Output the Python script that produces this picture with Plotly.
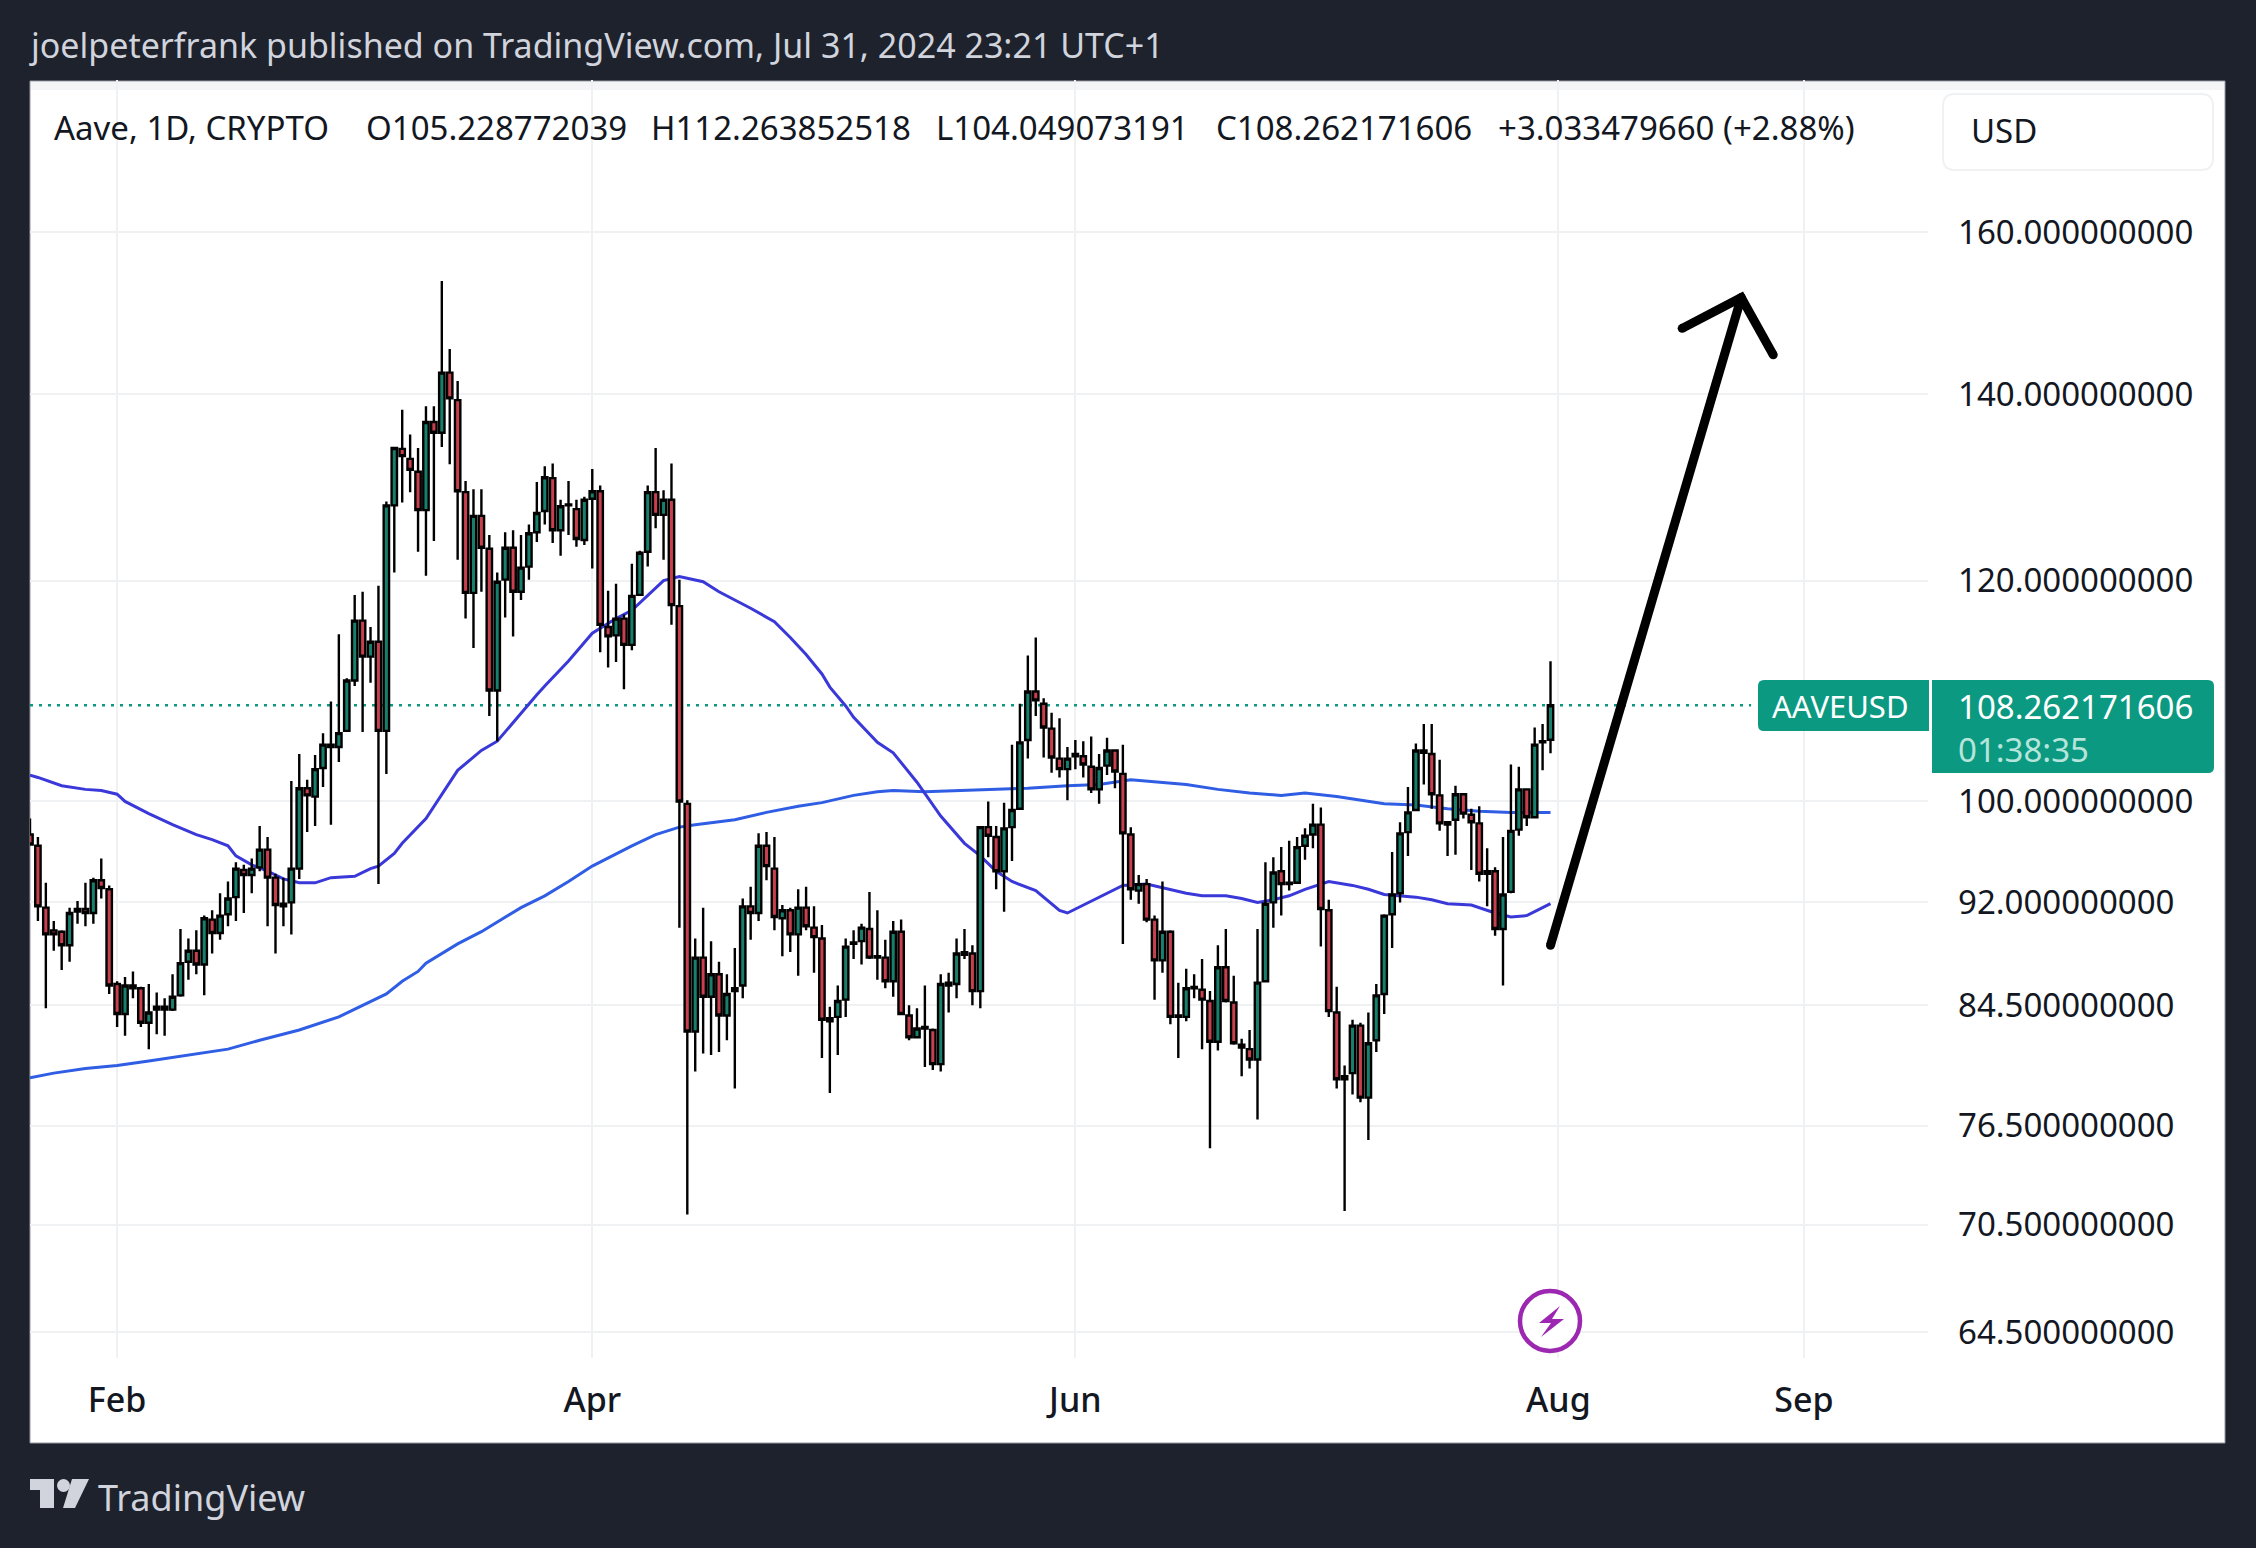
import plotly.graph_objects as go
import pandas as pd
import numpy as np

FONT = "Noto Sans"
dates = pd.date_range("2024-01-21", periods=193, freq="D")

opens = [97.3, 96.4, 91.6, 89.9, 89.8, 88.8, 91.3, 91.5, 91.2, 93.7,
         93.0, 86.0, 83.9, 85.9, 85.7, 83.3, 84.2, 84.4, 84.2, 85.2,
         87.6, 88.4, 87.4, 90.7, 89.7, 91.1, 92.4, 94.5, 94.1, 94.7,
         96.1, 93.9, 91.9, 92.0, 94.6, 101.1, 100.4, 102.8, 104.8, 104.6,
         106.0, 110.5, 116.1, 112.7, 114.1, 106.0, 127.7, 133.8, 132.7, 131.3,
         127.2, 136.8, 135.6, 142.5, 139.3, 129.1, 118.8, 126.6, 123.2, 109.6,
         120.1, 123.3, 118.9, 121.4, 124.9, 127.1, 130.6, 125.1, 127.8, 127.3,
         124.1, 128.4, 129.2, 115.5, 114.7, 116.3, 113.8, 118.6, 122.9, 129.1,
         126.7, 128.3, 117.5, 99.8, 82.7, 87.9, 85.1, 86.7, 83.8, 85.5,
         85.9, 91.7, 91.2, 96.4, 94.6, 90.8, 91.4, 89.6, 91.6, 90.1,
         89.3, 83.6, 83.7, 84.9, 88.9, 89.1, 90.0, 88.0, 87.9, 86.2,
         89.8, 83.8, 82.3, 83.0, 82.8, 80.5, 85.9, 86.0, 88.3, 88.2,
         85.5, 97.9, 97.1, 94.4, 97.9, 99.4, 105.2, 109.5, 108.4, 106.2,
         103.6, 102.7, 103.8, 103.8, 102.9, 101.0, 103.0, 104.3, 102.3, 97.3,
         92.9, 93.4, 90.7, 87.7, 89.8, 83.8, 83.7, 85.7, 85.6, 84.8,
         82.0, 87.2, 84.7, 81.8, 81.5, 80.8, 86.2, 92.0, 94.4, 93.5,
         93.5, 96.4, 97.3, 98.1, 91.4, 84.0, 79.7, 79.9, 83.1, 78.3,
         82.1, 85.3, 91.1, 92.7, 97.5, 99.3, 104.3, 104.0, 100.5, 98.3,
         98.5, 100.6, 98.9, 98.2, 94.4, 94.4, 90.0, 92.8, 97.7, 101.0,
         98.7, 105.0, 105.228772039]
closes = [96.5, 91.7, 89.6, 89.6, 88.8, 91.2, 91.5, 91.2, 93.7, 93.1,
          85.9, 83.9, 85.9, 85.7, 83.3, 84.0, 84.4, 84.2, 85.1, 87.5,
          88.4, 87.4, 90.8, 89.7, 91.0, 92.3, 94.6, 94.1, 94.6, 96.1,
          93.9, 91.8, 91.7, 94.6, 101.1, 100.5, 102.7, 104.8, 104.6, 105.8,
          110.5, 116.1, 112.7, 114.1, 106.0, 127.7, 133.9, 133.0, 131.5, 127.2,
          136.8, 135.6, 142.5, 139.5, 129.2, 118.8, 126.6, 123.3, 109.6, 119.9,
          123.3, 118.9, 121.3, 124.8, 126.9, 130.7, 125.1, 127.6, 127.7, 124.2,
          128.3, 129.2, 115.7, 114.6, 116.3, 113.8, 118.5, 122.8, 129.1, 126.7,
          128.3, 117.6, 100.0, 82.7, 87.9, 85.1, 86.7, 83.8, 85.3, 85.7,
          91.7, 91.2, 96.4, 94.8, 90.9, 91.4, 89.6, 91.6, 90.2, 89.4,
          83.5, 83.4, 84.8, 88.7, 89.0, 90.1, 87.9, 87.9, 86.2, 89.8,
          83.9, 82.3, 82.9, 82.9, 80.5, 86.0, 86.1, 88.2, 88.1, 85.5,
          97.9, 97.2, 94.4, 97.8, 99.3, 105.0, 109.5, 108.7, 106.3, 103.7,
          102.7, 103.6, 104.0, 103.1, 101.0, 102.8, 104.3, 102.5, 97.4, 93.0,
          93.4, 90.7, 87.7, 89.8, 83.7, 83.7, 85.7, 85.8, 84.9, 82.0,
          87.2, 84.8, 81.9, 81.6, 80.8, 86.1, 91.9, 94.3, 93.4, 93.4,
          96.3, 97.2, 98.1, 91.5, 84.1, 79.5, 79.5, 83.1, 78.3, 81.9,
          85.2, 91.0, 92.6, 97.4, 99.1, 104.3, 104.1, 100.6, 98.2, 98.1,
          100.6, 99.0, 98.3, 94.2, 94.2, 90.0, 92.6, 97.6, 101.0, 98.7,
          104.8, 105.1, 108.262171606]
highs = [98.6, 97.1, 93.5, 90.6, 89.9, 91.6, 92.1, 93.5, 93.9, 95.4,
         93.3, 86.2, 86.5, 86.9, 85.8, 86.0, 85.4, 85.0, 86.7, 90.0,
         89.3, 89.9, 91.0, 91.4, 92.7, 93.6, 95.1, 94.9, 95.4, 98.0,
         97.1, 94.2, 93.9, 101.7, 104.0, 101.8, 103.9, 105.8, 108.6, 114.8,
         110.7, 118.6, 118.9, 115.5, 119.5, 128.1, 134.0, 138.2, 135.4, 133.9,
         138.6, 138.6, 153.7, 145.3, 141.5, 130.3, 129.4, 129.4, 124.6, 120.8,
         124.9, 125.1, 124.6, 125.7, 130.2, 131.9, 132.2, 128.3, 130.3, 128.3,
         128.6, 131.6, 129.8, 119.0, 119.7, 116.7, 121.7, 123.0, 129.8, 133.9,
         129.3, 132.2, 120.1, 100.1, 89.3, 91.6, 89.1, 87.6, 86.7, 88.6,
         92.3, 93.2, 97.4, 97.5, 97.1, 91.8, 91.6, 93.0, 93.2, 91.7,
         90.3, 84.4, 85.9, 89.3, 89.9, 90.4, 92.8, 91.4, 89.2, 90.6,
         90.7, 84.5, 84.3, 85.9, 82.9, 86.7, 86.8, 89.3, 90.0, 88.8,
         97.9, 100.0, 98.0, 99.9, 104.8, 108.4, 112.8, 114.5, 108.9, 107.6,
         107.1, 104.6, 105.2, 105.1, 105.5, 104.0, 105.4, 104.4, 104.8, 97.9,
         94.1, 93.8, 91.0, 93.6, 89.9, 86.1, 87.1, 86.7, 87.8, 85.5,
         88.8, 90.0, 86.6, 82.2, 82.8, 90.0, 95.1, 95.5, 96.3, 96.8,
         97.1, 97.8, 99.8, 99.5, 92.2, 85.8, 80.4, 83.5, 83.3, 84.0,
         86.0, 91.1, 95.9, 98.3, 101.2, 104.9, 106.6, 106.6, 103.5, 98.3,
         101.3, 100.7, 99.4, 99.6, 96.2, 94.7, 97.1, 103.1, 102.9, 101.1,
         106.3, 106.6, 112.263852518]
lows = [96.4, 90.6, 84.3, 88.4, 87.0, 87.6, 90.4, 90.2, 90.4, 92.3,
        85.3, 83.0, 82.4, 85.0, 83.0, 81.5, 82.5, 82.4, 84.1, 85.1,
        86.3, 86.7, 85.2, 88.2, 89.2, 90.2, 90.6, 91.2, 92.7, 94.4,
        90.2, 88.2, 90.2, 89.6, 93.8, 97.5, 98.0, 101.2, 98.1, 103.3,
        105.9, 110.0, 105.9, 110.3, 93.4, 102.3, 120.8, 128.0, 129.1, 122.9,
        120.5, 124.0, 134.0, 132.1, 122.1, 116.3, 113.5, 118.9, 107.3, 105.1,
        116.4, 114.6, 118.1, 120.1, 123.9, 125.7, 123.8, 122.5, 124.6, 123.4,
        123.6, 121.2, 113.1, 111.7, 112.2, 109.7, 113.3, 118.6, 121.4, 125.3,
        122.1, 115.7, 90.1, 71.1, 80.0, 81.2, 81.1, 81.3, 82.1, 78.9,
        85.0, 89.2, 90.6, 93.7, 89.9, 88.0, 88.3, 86.6, 89.9, 86.8,
        80.9, 78.6, 81.1, 83.7, 87.8, 87.4, 87.8, 86.3, 85.7, 85.1,
        83.9, 82.1, 82.3, 80.3, 80.1, 80.0, 84.0, 85.0, 87.8, 84.5,
        84.3, 95.5, 93.0, 91.3, 95.2, 99.3, 103.6, 107.3, 103.7, 102.4,
        102.0, 100.1, 102.7, 102.0, 100.7, 99.8, 102.2, 101.1, 88.9, 92.2,
        91.9, 90.5, 84.9, 86.8, 83.2, 80.9, 83.4, 85.0, 81.5, 75.1,
        81.4, 84.7, 81.8, 79.7, 80.2, 76.9, 86.2, 90.1, 91.0, 92.9,
        93.4, 95.3, 96.2, 88.7, 83.7, 78.9, 71.3, 78.5, 78.0, 75.6,
        81.3, 83.9, 88.6, 92.0, 95.6, 99.2, 101.4, 99.4, 97.6, 95.6,
        95.7, 98.6, 94.5, 93.6, 91.7, 89.5, 85.9, 92.7, 97.2, 98.0,
        98.7, 102.6, 104.049073191]

# moving averages, read at the days where the curve bends
fast_days = [0, 1, 4, 7, 9, 11, 12, 15, 18, 21, 23, 25, 26, 28, 30, 32, 34, 36, 38, 41, 43, 44, 46, 47, 50,
             54, 57, 59, 64, 65, 68, 71, 74, 76, 80, 82, 85, 87, 91, 94, 96, 98, 100, 101, 103, 104, 107, 109,
             112, 115, 118, 120, 122, 124, 127, 128, 130, 131, 133, 135, 137, 138, 141, 143, 146, 148, 151, 153,
             155, 157, 159, 161, 164, 167, 169, 171, 173, 175, 177, 179, 182, 185, 187, 189, 191, 192]
fast_vals = [102.2, 102.0, 101.3, 101.0, 100.9, 100.6, 100.0, 99.0, 98.1, 97.3, 96.9, 96.4, 95.6, 94.9, 94.4, 93.8,
             93.5, 93.5, 93.9, 94.0, 94.6, 94.8, 95.8, 96.6, 98.6,
             102.6, 104.3, 105.1, 109.2, 110.0, 112.3, 114.9, 116.3, 117.1, 120.0, 120.4, 119.9, 118.9, 117.3, 116.0,
             114.5, 112.9, 111.1, 109.9, 108.2, 107.2, 105.0, 104.1,
             101.6, 98.8, 96.6, 95.6, 94.4, 93.6, 92.9, 92.4, 91.4, 91.2, 91.8, 92.4, 93.0, 93.3, 93.4, 93.1, 92.7,
             92.5, 92.5, 92.3, 92.0, 92.2, 92.5, 93.0, 93.6, 93.3, 93.0, 92.6, 92.5, 92.4, 92.2, 91.9, 91.8, 91.2,
             90.9, 91.0, 91.6, 91.9]
slow_days = [0, 3, 7, 11, 15, 19, 25, 29, 34, 39, 42, 45, 47, 49, 50, 54, 57, 59, 62, 65, 68, 71, 76, 79, 82, 84, 89,
             93, 97, 100, 104, 107, 109, 113, 118, 122, 126, 131, 135, 139, 141, 146, 150, 154, 158, 161, 165, 169,
             171, 175, 179, 183, 187, 192]
slow_vals = [79.6, 79.9, 80.2, 80.4, 80.7, 81.0, 81.5, 82.1, 82.8, 83.7, 84.5, 85.3, 86.2, 86.9, 87.5, 88.9, 89.8, 90.5,
             91.6, 92.5, 93.6, 94.8, 96.4, 97.3, 97.9, 98.1, 98.5, 99.1, 99.6, 99.9, 100.5, 100.8, 100.9, 100.8, 100.9,
             101.0, 101.1, 101.3, 101.4, 101.8, 101.7, 101.4, 101.0, 100.7, 100.5, 100.7, 100.4, 100.0, 99.8, 99.7,
             99.4, 99.2, 99.1, 99.1]

# hand drawn arrow on the published idea
arrow_dates = ["2024-07-31 00:00", "2024-08-24 02:00", None, "2024-08-16 15:00", "2024-08-24 02:00", "2024-08-28 03:00"]
arrow_prices = [88.8, 151.6, None, 147.8, 151.6, 144.6]

price_ticks = [160, 140, 120, 100, 92, 84.5, 76.5, 70.5, 64.5]
month_ticks = ["2024-02-01", "2024-04-01", "2024-06-01", "2024-08-01", "2024-09-01"]
month_labels = ["Feb", "Apr", "Jun", "Aug", "Sep"]
last_close = closes[-1]

W, H = 2256, 1548
def px(v):
    return v / W
def py(v):
    return 1 - v / H

dark = "#1e222d"
teal = "#0b9981"

def note(text, x, y, size=33, color="#131722", anchor="left"):
    return dict(text=text, x=px(x), y=py(y), xref="paper", yref="paper", showarrow=False,
                xanchor=anchor, yanchor="middle", font=dict(family=FONT, size=size, color=color))

fig = go.Figure()

fig.add_trace(go.Scatter(x=[dates[0], "2024-08-25 08:00"], y=[last_close, last_close], mode="lines",
                         line=dict(color=teal, width=2.5, dash="3px,6px"), zorder=0, hoverinfo="skip"))
fig.add_trace(go.Scatter(x=dates[slow_days], y=slow_vals, mode="lines", line=dict(color="#2f5de3", width=3), zorder=0))
fig.add_trace(go.Scatter(x=dates[fast_days], y=fast_vals, mode="lines", line=dict(color="#3a38d8", width=3), zorder=0))
fig.add_trace(go.Candlestick(
    x=dates, open=opens, high=highs, low=lows, close=closes,
    increasing=dict(line=dict(color="#000000", width=2.4), fillcolor="#17806d"),
    decreasing=dict(line=dict(color="#000000", width=2.4), fillcolor="#c8404d"),
    whiskerwidth=0, zorder=1,
))
fig.add_trace(go.Scatter(x=arrow_dates, y=arrow_prices, mode="lines+markers",
                         line=dict(color="#000000", width=9), marker=dict(color="#000000", size=9),
                         zorder=2, connectgaps=False))

shapes = [
    dict(type="rect", xref="paper", yref="paper", x0=px(30), x1=px(2225), y0=py(81), y1=py(1443),
         fillcolor="#ffffff", line=dict(color="#9598a1", width=1), layer="below"),
    dict(type="rect", xref="paper", yref="paper", x0=px(31), x1=px(2224), y0=py(82), y1=py(90),
         fillcolor="#f4f5f7", line=dict(width=0), layer="below"),
    # currency box
    dict(type="path", xref="paper", yref="paper", fillcolor="#ffffff", line=dict(color="#f0f1f3", width=2), layer="below",
         path=f"M {px(1955)} {py(94)} L {px(2201)} {py(94)} Q {px(2213)} {py(94)} {px(2213)} {py(106)} "
              f"L {px(2213)} {py(158)} Q {px(2213)} {py(170)} {px(2201)} {py(170)} L {px(1955)} {py(170)} "
              f"Q {px(1943)} {py(170)} {px(1943)} {py(158)} L {px(1943)} {py(106)} Q {px(1943)} {py(94)} {px(1955)} {py(94)} Z"),
    # last price tags
    dict(type="path", xref="paper", yref="paper", fillcolor=teal, line=dict(width=0),
         path=f"M {px(1764)} {py(680)} L {px(1929)} {py(680)} L {px(1929)} {py(731)} L {px(1764)} {py(731)} "
              f"Q {px(1758)} {py(731)} {px(1758)} {py(725)} L {px(1758)} {py(686)} Q {px(1758)} {py(680)} {px(1764)} {py(680)} Z"),
    dict(type="path", xref="paper", yref="paper", fillcolor=teal, line=dict(width=0),
         path=f"M {px(1932)} {py(680)} L {px(2208)} {py(680)} Q {px(2214)} {py(680)} {px(2214)} {py(686)} "
              f"L {px(2214)} {py(767)} Q {px(2214)} {py(773)} {px(2208)} {py(773)} L {px(1932)} {py(773)} Z"),
    # lightning badge
    dict(type="circle", xref="paper", yref="paper", x0=px(1520), x1=px(1580), y0=py(1291), y1=py(1351),
         fillcolor="#ffffff", line=dict(color="#9c27b0", width=4.5)),
    dict(type="path", xref="paper", yref="paper", fillcolor="#9c27b0", line=dict(width=0),
         path=f"M {px(1560)} {py(1306)} L {px(1539)} {py(1323)} L {px(1551)} {py(1323)} L {px(1541)} {py(1337)} "
              f"L {px(1564)} {py(1319)} L {px(1552)} {py(1319)} Z"),
    # TradingView logo
    dict(type="path", xref="paper", yref="paper", fillcolor="#d1d4dc", line=dict(width=0),
         path=f"M {px(30)} {py(1479)} L {px(54)} {py(1479)} L {px(54)} {py(1508)} L {px(40)} {py(1508)} "
              f"L {px(40)} {py(1490)} L {px(30)} {py(1490)} Z"),
    dict(type="circle", xref="paper", yref="paper", x0=px(57), x1=px(70), y0=py(1479), y1=py(1492),
         fillcolor="#d1d4dc", line=dict(width=0)),
    dict(type="path", xref="paper", yref="paper", fillcolor="#d1d4dc", line=dict(width=0),
         path=f"M {px(72)} {py(1479)} L {px(89)} {py(1479)} L {px(75)} {py(1508)} L {px(63)} {py(1508)} Z"),
]

annotations = [
    note("joelpeterfrank published on TradingView.com, Jul 31, 2024 23:21 UTC+1", 27, 45, size=34, color="#d1d4dc"),
    note("Aave, 1D, CRYPTO", 52, 127),
    note("O105.228772039", 364, 127),
    note("H112.263852518", 649, 127),
    note("L104.049073191", 934, 127),
    note("C108.262171606", 1214, 127),
    note("+3.033479660 (+2.88%)", 1496, 127),
    note("USD", 1969, 130),
    note("AAVEUSD", 1770, 706, size=31, color="#ffffff"),
    note("108.262171606", 1956, 706, color="#ffffff"),
    note("01:38:35", 1956, 749, color="#b7e4db"),
    note("TradingView", 96, 1497, size=36, color="#d1d4dc"),
]

fig.update_layout(
    width=W, height=H, autosize=False, showlegend=False,
    margin=dict(l=0, r=0, t=0, b=0),
    paper_bgcolor=dark, plot_bgcolor="rgba(0,0,0,0)",
    boxgap=0.32, boxgroupgap=0,
    shapes=shapes, annotations=annotations,
    xaxis=dict(
        domain=[px(30), px(1928)], type="date", rangeslider=dict(visible=False),
        range=["2024-01-21 00:00", "2024-09-16 16:00"],
        tickmode="array", tickvals=month_ticks, ticktext=month_labels,
        tickfont=dict(family=FONT, size=34, color="#131722", weight=500), ticks="", ticklabelstandoff=19,
        showgrid=True, gridcolor="#f0f1f3", gridwidth=2, zeroline=False, showline=False,
    ),
    yaxis=dict(
        domain=[py(1358), py(80)], type="log", side="right",
        range=[np.log10(63.15), np.log10(181.45)],
        tickmode="array", tickvals=price_ticks, ticktext=[f"{v:.9f}" for v in price_ticks],
        tickfont=dict(family=FONT, size=33, color="#131722"), ticks="", ticklabelstandoff=29,
        showgrid=True, gridcolor="#f0f1f3", gridwidth=2, zeroline=False, showline=False,
    ),
)

fig.write_html("out.html", config=dict(displayModeBar=False),
               post_script="document.body.style.margin='0';document.body.style.overflow='hidden';")
